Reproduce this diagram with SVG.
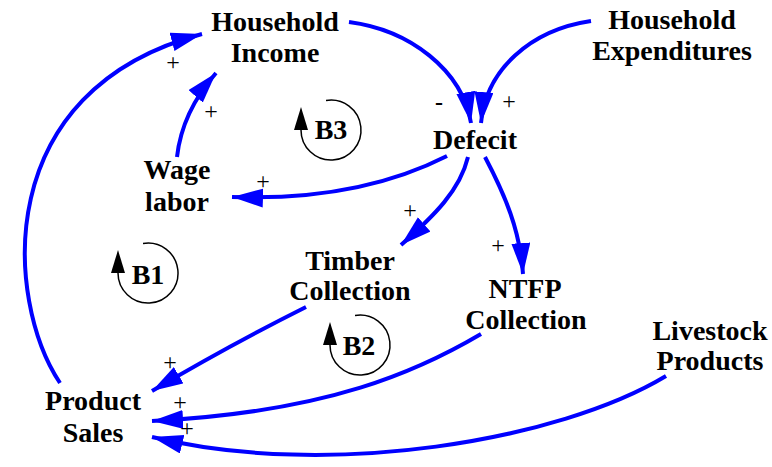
<svg xmlns="http://www.w3.org/2000/svg" width="772" height="467" viewBox="0 0 772 467">
  <style>
    .lbl { font-family: "Liberation Serif", "Times New Roman", serif; font-weight: bold; font-size: 28px; fill: #000; text-anchor: middle; }
    .pol { font-family: "Liberation Serif", "Times New Roman", serif; font-size: 24px; fill: #000; text-anchor: middle; }
    .neg { font-family: "Liberation Serif", "Times New Roman", serif; font-weight: bold; font-size: 24px; fill: #000; text-anchor: middle; }
    .link { fill: none; stroke: #0000ff; stroke-width: 4; marker-end: url(#ah); }
    .loop { fill: none; stroke: #000; stroke-width: 1.5; }
  </style>
  <defs>
    <marker id="ah" markerUnits="userSpaceOnUse" markerWidth="34" markerHeight="22" refX="31" refY="9.5" orient="auto">
      <path d="M0,0 L31,9.5 L0,19 z" fill="#0000ff"/>
    </marker>
  </defs>

  <!-- causal links -->
  <g id="connectors">
    <path class="link" d="M60 383 C5 300 -10 90 202 34"/>
    <path class="link" d="M177 157 Q182 112 216 73"/>
    <path class="link" d="M349 22 C410 30 462 70 471 123"/>
    <path class="link" d="M591 21 C530 30 486 70 481 123"/>
    <path class="link" d="M447 156 C390 185 320 200 232 197"/>
    <path class="link" d="M468 157 C460 190 435 215 401 245"/>
    <path class="link" d="M485 157 C505 195 520 230 523 274"/>
    <path class="link" d="M306 307 Q230 345 152 391"/>
    <path class="link" d="M481 334 C420 370 330 412 152 421"/>
    <path class="link" d="M666 376 C560 440 330 480 152 437"/>
  </g>

  <!-- polarity signs -->
  <g id="polarities">
    <text class="pol" x="173" y="70">+</text>
    <text class="pol" x="211" y="119">+</text>
    <text class="neg" x="439" y="110">-</text>
    <text class="pol" x="509" y="109">+</text>
    <text class="pol" x="263" y="189">+</text>
    <text class="pol" x="410" y="218">+</text>
    <text class="pol" x="498" y="253">+</text>
    <text class="pol" x="170" y="370">+</text>
    <text class="pol" x="180" y="410">+</text>
    <text class="pol" x="187" y="436">+</text>
  </g>

  <!-- variables -->
  <g id="household-income">
    <text class="lbl" x="275" y="31">Household</text>
    <text class="lbl" x="275" y="62">Income</text>
  </g>
  <g id="household-expenditures">
    <text class="lbl" x="672" y="29">Household</text>
    <text class="lbl" x="672" y="60">Expenditures</text>
  </g>
  <g id="defecit">
    <text class="lbl" x="475" y="149">Defecit</text>
  </g>
  <g id="wage-labor">
    <text class="lbl" x="177" y="179">Wage</text>
    <text class="lbl" x="177" y="211">labor</text>
  </g>
  <g id="timber-collection">
    <text class="lbl" x="350" y="270">Timber</text>
    <text class="lbl" x="350" y="300">Collection</text>
  </g>
  <g id="ntfp-collection">
    <text class="lbl" x="525" y="298">NTFP</text>
    <text class="lbl" x="526" y="329">Collection</text>
  </g>
  <g id="livestock-products">
    <text class="lbl" x="710" y="340">Livestock</text>
    <text class="lbl" x="710" y="370">Products</text>
  </g>
  <g id="product-sales">
    <text class="lbl" x="93" y="410">Product</text>
    <text class="lbl" x="93" y="442">Sales</text>
  </g>

  <!-- loop markers -->
  <g id="loop-b1">
    <path class="loop" d="M118 273 A30 30 0 1 0 143 243.5"/>
    <polygon points="118,250 111,273 125,273" fill="#000"/>
    <text class="lbl" x="148" y="284">B1</text>
  </g>
  <g id="loop-b2">
    <path class="loop" d="M330 345 A30 30 0 1 0 355 315.5"/>
    <polygon points="330,322 323,345 337,345" fill="#000"/>
    <text class="lbl" x="359" y="355">B2</text>
  </g>
  <g id="loop-b3">
    <path class="loop" d="M301 130 A30 30 0 1 0 326 100.5"/>
    <polygon points="301,107 294,130 308,130" fill="#000"/>
    <text class="lbl" x="331" y="139">B3</text>
  </g>
</svg>
